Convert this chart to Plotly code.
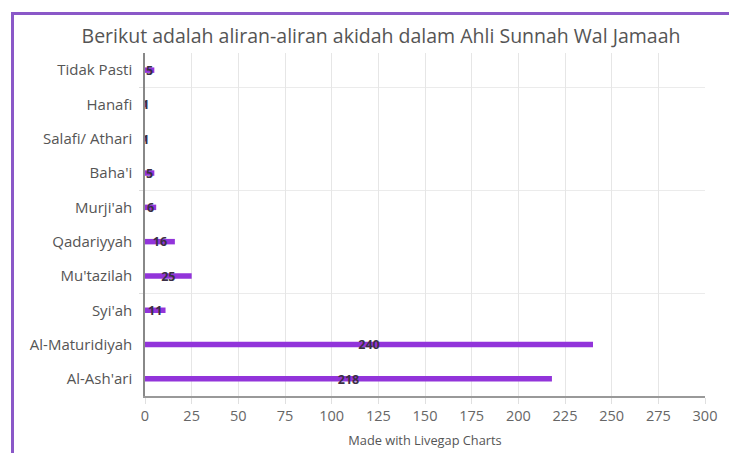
import plotly.graph_objects as go

categories = ["Al-Ash'ari", "Al-Maturidiyah", "Syi'ah", "Mu'tazilah", "Qadariyyah",
              "Murji'ah", "Baha'i", "Salafi/ Athari", "Hanafi", "Tidak Pasti"]
values = [218, 240, 11, 25, 16, 6, 5, 1, 1, 5]
x_ticks = [0, 25, 50, 75, 100, 125, 150, 175, 200, 225, 250, 275, 300]
title_text = "Berikut adalah aliran-aliran akidah dalam Ahli Sunnah Wal Jamaah"
x_title = "Made with Livegap Charts"

pos = list(range(len(categories)))
label_x = [v / 2 for v in values]

# page body has an 8px margin; compensate so that page pixels line up
OFF = 8
FW, FH = 737, 453
L, R, T, B = 145 - OFF, 705 - OFF, 53 - OFF, 396 - OFF
W, H = R - L, B - T

fig = go.Figure()
fig.add_trace(go.Bar(
    x=values, y=pos, orientation="h", width=0.16,
    marker=dict(color="#9234da", line=dict(width=0)),
    hoverinfo="skip", showlegend=False,
))
fig.add_trace(go.Scatter(
    x=label_x, y=[p - 0.05 for p in pos], mode="text", text=[str(v) for v in values],
    textposition="middle center",
    textfont=dict(family="Open Sans", size=12.5, color="#3a2f45", weight="bold"),
    hoverinfo="skip", showlegend=False,
))

def px_x(p):
    return (p - OFF - L) / W
def px_y(p):
    return (B - (p - OFF)) / H

fig.add_shape(type="line", xref="paper", yref="paper",
              x0=px_x(11), x1=px_x(760), y0=px_y(13.5), y1=px_y(13.5),
              line=dict(color="#8a58c8", width=3))
fig.add_shape(type="line", xref="paper", yref="paper",
              x0=px_x(12.5), x1=px_x(12.5), y0=px_y(12), y1=px_y(480),
              line=dict(color="#8a58c8", width=3))

fig.update_layout(
    width=FW, height=FH,
    margin=dict(l=L, r=FW - R, t=T, b=FH - B),
    paper_bgcolor="white", plot_bgcolor="white",
    font=dict(family="Open Sans", color="#555"),
    title=dict(text=title_text, x=(381 - OFF) / FW, xanchor="center", xref="container",
               y=1 - (36 - OFF) / FH, yanchor="middle", yref="container",
               font=dict(family="Open Sans", size=19.5, color="#555")),
    xaxis=dict(
        range=[0, 300], tickvals=x_ticks, showgrid=True, gridcolor="#e6e6e6", gridwidth=1,
        zeroline=False, showline=True, linecolor="#999", linewidth=1.5,
        ticks="outside", ticklen=6, tickcolor="#e0e0e0",
        tickfont=dict(family="Open Sans", size=14.5, color="#666"),
        title=dict(text=x_title, font=dict(family="Open Sans", size=12.8, color="#555"), standoff=12),
    ),
    yaxis=dict(
        range=[-0.5, 9.5], tickvals=pos, ticktext=categories, showgrid=False,
        zeroline=False, showline=True, linecolor="#888", linewidth=1.5,
        ticks="", ticklabelstandoff=8,
        tickfont=dict(family="Open Sans", size=15, color="#555"),
        minor=dict(tickvals=[2.5, 5.5, 8.5], showgrid=True, gridcolor="#ebebeb",
                   ticks="outside", ticklen=4, tickcolor="#ddd"),
    ),
)

fig.write_html("out.html")
